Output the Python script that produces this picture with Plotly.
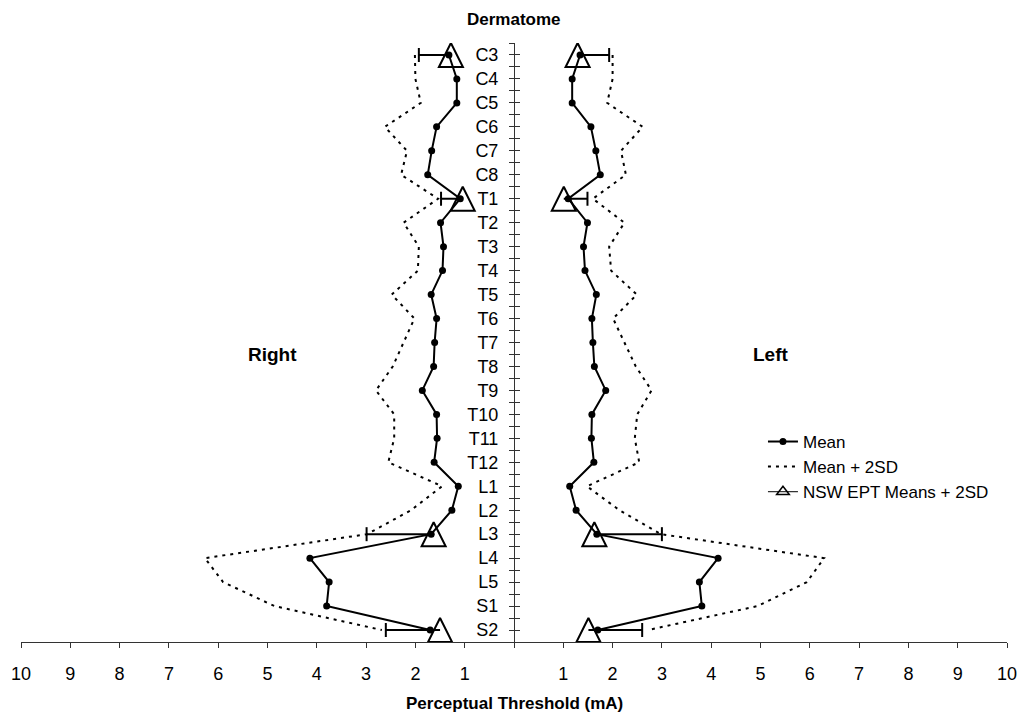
import plotly.graph_objects as go

# ---------------- data ----------------
dermatomes = ["C3", "C4", "C5", "C6", "C7", "C8",
              "T1", "T2", "T3", "T4", "T5", "T6", "T7", "T8", "T9", "T10", "T11", "T12",
              "L1", "L2", "L3", "L4", "L5", "S1", "S2"]

right_mean = [1.32, 1.16, 1.16, 1.57, 1.67, 1.75,
              1.09, 1.49, 1.43, 1.45, 1.68, 1.57, 1.61, 1.63, 1.86, 1.57, 1.56, 1.62,
              1.13, 1.26, 1.68, 4.14, 3.75, 3.80, 1.70]
left_mean = [1.34, 1.18, 1.18, 1.56, 1.66, 1.75,
             1.10, 1.49, 1.41, 1.44, 1.67, 1.58, 1.60, 1.63, 1.86, 1.58, 1.57, 1.62,
             1.13, 1.26, 1.68, 4.14, 3.76, 3.81, 1.70]

right_mean_2sd = [2.01, 2.00, 1.89, 2.62, 2.17, 2.29,
                  1.54, 2.24, 1.93, 1.95, 2.48, 2.02, 2.24, 2.46, 2.80, 2.43, 2.43, 2.55,
                  1.46, 2.09, 2.98, 6.27, 5.90, 4.86, 2.68]
left_mean_2sd = [2.00, 2.00, 1.89, 2.61, 2.17, 2.27,
                 1.60, 2.24, 1.93, 1.97, 2.49, 2.01, 2.24, 2.47, 2.79, 2.50, 2.45, 2.54,
                 1.48, 2.14, 2.98, 6.29, 5.94, 4.94, 2.72]

nsw_dermatomes = ["C3", "T1", "L3", "S2"]
right_nsw_mean = [1.28, 1.04, 1.63, 1.50]
right_nsw_2sd = [1.93, 1.48, 2.99, 2.60]
left_nsw_mean = [1.29, 1.01, 1.63, 1.51]
left_nsw_2sd = [1.93, 1.49, 3.00, 2.60]

x_ticks = list(range(-10, 11))
x_tick_labels = [str(abs(v)) if v != 0 else "" for v in x_ticks]

# ---------------- figure ----------------
BLACK = "#000000"
AXIS = "#333333"
FONT = "Liberation Sans, Arial, Helvetica, sans-serif"


def ypos(names):
    return [dermatomes.index(n) for n in names]


y_ticks = [i * 0.5 - 0.5 for i in range(2 * len(dermatomes) + 1)]
y_tick_text = [dermatomes[int(v)] if float(v).is_integer() else "" for v in y_ticks]

fig = go.Figure()

sides = [
    ("Right", -1, right_mean, right_mean_2sd, right_nsw_mean, right_nsw_2sd, "y"),
    ("Left", 1, left_mean, left_mean_2sd, left_nsw_mean, left_nsw_2sd, "y2"),
]

for side, sign, mean, sd2, nmean, nsd2, yax in sides:
    first = side == "Right"
    # Mean + 2SD (dotted)
    fig.add_trace(go.Scatter(
        x=[sign * v for v in sd2], y=ypos(dermatomes), yaxis=yax,
        mode="lines", line=dict(color=BLACK, width=2, dash="3px,5px"),
        name="Mean + 2SD", legendgroup="sd", legendrank=2, showlegend=first,
        hoverinfo="skip"))
    # NSW EPT mean + error to +2SD
    up = [b - a for a, b in zip(nmean, nsd2)]
    zero = [0] * len(up)
    fig.add_trace(go.Scatter(
        x=[sign * v for v in nmean], y=ypos(nsw_dermatomes), yaxis=yax,
        mode="markers",
        marker=dict(symbol="arrow-down-open", size=24, angle=180, standoff=12,
                    color=BLACK, line=dict(color=BLACK, width=2)),
        error_x=dict(type="data", symmetric=False,
                     array=up if sign > 0 else zero,
                     arrayminus=zero if sign > 0 else up,
                     width=0, thickness=2, color=BLACK),
        name="NSW EPT Means + 2SD", legendgroup="nsw", showlegend=False,
        hoverinfo="skip"))
    # caps at the +2SD ends
    fig.add_trace(go.Scatter(
        x=[sign * v for v in nsd2], y=ypos(nsw_dermatomes), yaxis=yax,
        mode="markers",
        marker=dict(symbol="line-ns", size=10, color=BLACK,
                    line=dict(color=BLACK, width=2)),
        legendgroup="nsw", showlegend=False, hoverinfo="skip"))
    # Mean
    fig.add_trace(go.Scatter(
        x=[sign * v for v in mean], y=ypos(dermatomes), yaxis=yax,
        mode="lines+markers", line=dict(color=BLACK, width=2),
        marker=dict(symbol="circle", size=7, color=BLACK),
        name="Mean", legendgroup="mean", legendrank=1, showlegend=first,
        hoverinfo="skip"))

# legend entry for NSW EPT
fig.add_trace(go.Scatter(
    x=[None], y=[None], mode="lines+markers",
    line=dict(color=BLACK, width=1),
    marker=dict(symbol="triangle-up-open", size=11, color=BLACK,
                line=dict(color=BLACK, width=1.5)),
    name="NSW EPT Means + 2SD", legendgroup="nsw", legendrank=3, showlegend=True))

common_y = dict(range=[24.5, -0.5], tickmode="array", tickvals=y_ticks,
                anchor="free", position=0.5, side="left", automargin=False,
                ticklen=5, tickwidth=1, tickcolor=AXIS,
                showgrid=False, zeroline=False, fixedrange=True)

fig.update_layout(
    width=1019, height=712,
    margin=dict(l=21, r=12, t=43, b=70, autoexpand=False),
    plot_bgcolor="white", paper_bgcolor="white",
    font=dict(family=FONT, color=BLACK, size=17),
    xaxis=dict(range=[-10, 10], tickmode="array", tickvals=x_ticks, ticktext=x_tick_labels,
               ticks="outside", ticklen=5, tickwidth=1, tickcolor=AXIS,
               showline=True, linecolor=AXIS, linewidth=1, automargin=False,
               showgrid=False, zeroline=False, fixedrange=True,
               tickfont=dict(size=18, color=BLACK), ticklabelstandoff=10),
    yaxis=dict(**common_y, ticktext=y_tick_text, ticks="outside",
               showline=True, linecolor=AXIS, linewidth=1,
               tickfont=dict(size=18, color=BLACK), ticklabelstandoff=7),
    yaxis2=dict(**common_y, overlaying="y", ticks="inside",
                showticklabels=False, showline=False),
    legend=dict(x=0.7525, y=0.364, xanchor="left", yanchor="top",
                font=dict(size=17, color=BLACK), bgcolor="rgba(0,0,0,0)",
                tracegroupgap=3, traceorder="normal"),
    annotations=[
        dict(text="<b>Dermatome</b>", x=0.5, y=1.0384, xref="paper", yref="paper",
             xanchor="center", yanchor="middle", showarrow=False, font=dict(size=17)),
        dict(text="<b>Perceptual Threshold (mA)</b>", x=0.5, y=-0.1035, xref="paper",
             yref="paper", xanchor="center", yanchor="middle", showarrow=False,
             font=dict(size=17)),
        dict(text="<b>Right</b>", x=0.2546, y=0.4808, xref="paper", yref="paper",
             xanchor="center", yanchor="middle", showarrow=False, font=dict(size=19)),
        dict(text="<b>Left</b>", x=0.7606, y=0.4808, xref="paper", yref="paper",
             xanchor="center", yanchor="middle", showarrow=False, font=dict(size=19)),
    ],
)

fig.write_html("out.html",
               config={"displayModeBar": False},
               post_script="document.body.style.margin='0';document.body.style.overflow='hidden';")
